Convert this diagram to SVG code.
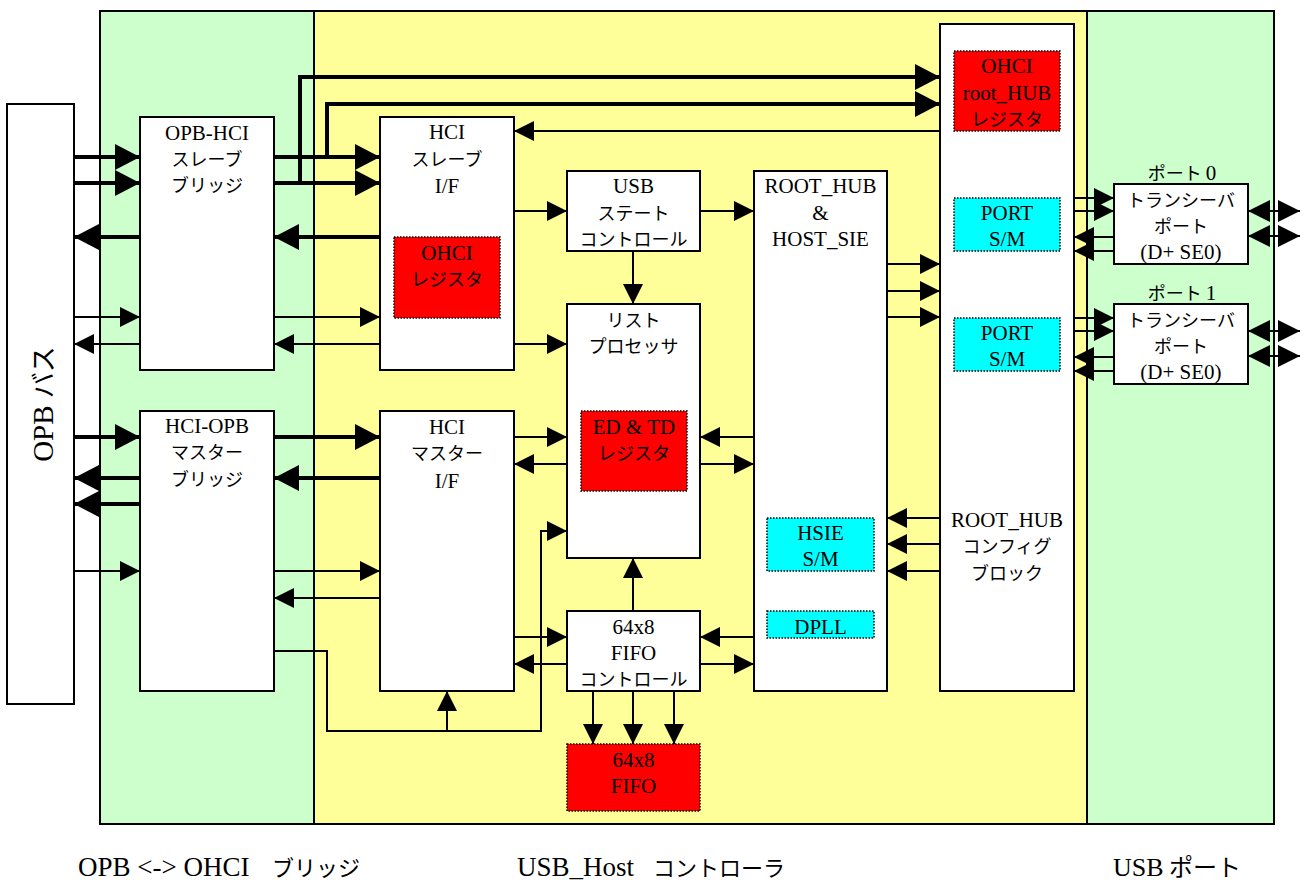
<svg xmlns="http://www.w3.org/2000/svg" width="1305" height="882" viewBox="0 0 1305 882">
<style>
.rg{fill:#CCFFCC;stroke:#000;stroke-width:2}
.ry{fill:#FFFF99;stroke:#000;stroke-width:2}
.box{fill:#fff;stroke:#000;stroke-width:2}
.red{fill:#FF0000;stroke:#000;stroke-width:1.5;stroke-dasharray:1.5 1.5}
.cyan{fill:#00FFFF;stroke:#000;stroke-width:1.5;stroke-dasharray:1.5 1.5}
.t{font-family:'Liberation Serif','Times New Roman',serif;font-size:21px;text-anchor:middle;fill:#000}
.j{font-family:'Noto Sans CJK JP',sans-serif;font-size:18px;text-anchor:middle;fill:#000}
.big{font-family:'Liberation Serif','Times New Roman',serif;font-size:27px;fill:#000}
.bigj{font-family:'Noto Sans CJK JP',sans-serif;font-size:22px;fill:#000}
.thin{stroke:#000;stroke-width:2;fill:none;marker-end:url(#a)}
.thick{stroke:#000;stroke-width:4;fill:none;marker-end:url(#ta)}
.bi{stroke:#000;stroke-width:2;fill:none;marker-start:url(#b);marker-end:url(#b)}
</style>
<defs>
<marker id="a" markerUnits="userSpaceOnUse" markerWidth="20" markerHeight="20" refX="20" refY="10" orient="auto"><path d="M0,0 L20,10 L0,20 z" fill="#000"/></marker>
<marker id="ta" markerUnits="userSpaceOnUse" markerWidth="25" markerHeight="26" refX="25" refY="13" orient="auto"><path d="M0,0 L25,13 L0,26 z" fill="#000"/></marker>
<marker id="b" markerUnits="userSpaceOnUse" markerWidth="22" markerHeight="22" refX="22" refY="11" orient="auto-start-reverse"><path d="M0,0 L22,11 L0,22 z" fill="#000"/></marker>
</defs>

<g id="regions">
<rect class="rg" x="100" y="11" width="214" height="813"/>
<rect class="ry" x="314" y="11" width="773" height="813"/>
<rect class="rg" x="1087" y="11" width="187" height="813"/>
</g>

<g id="opb-bus">
<rect class="box" x="7" y="104" width="67" height="600"/>
<text transform="translate(53,404) rotate(-90)" text-anchor="middle"><tspan class="big" style="font-size:29px">OPB </tspan><tspan class="bigj" style="font-size:26px">バス</tspan></text>
</g>

<g id="opb-hci">
<rect class="box" x="140" y="117" width="134" height="253"/>
<text class="t" x="207" y="140">OPB-HCI</text>
<text class="j" x="207" y="166">スレーブ</text>
<text class="j" x="207" y="192">ブリッジ</text>
</g>

<g id="hci-opb">
<rect class="box" x="140" y="411" width="134" height="280"/>
<text class="t" x="207" y="433">HCI-OPB</text>
<text class="j" x="207" y="459">マスター</text>
<text class="j" x="207" y="486">ブリッジ</text>
</g>

<g id="hci-slave-if">
<rect class="box" x="380" y="117" width="134" height="253"/>
<text class="t" x="447" y="139">HCI</text>
<text class="j" x="447" y="166">スレーブ</text>
<text class="t" x="447" y="193">I/F</text>
</g>
<g id="ohci-reg">
<rect class="red" x="394" y="237" width="106" height="81"/>
<text class="t" x="447" y="260">OHCI</text>
<text class="j" x="447" y="286">レジスタ</text>
</g>

<g id="hci-master-if">
<rect class="box" x="380" y="411" width="134" height="280"/>
<text class="t" x="447" y="434">HCI</text>
<text class="j" x="447" y="460">マスター</text>
<text class="t" x="447" y="488">I/F</text>
</g>

<g id="usb-state">
<rect class="box" x="567" y="171" width="133" height="80"/>
<text class="t" x="633.5" y="193">USB</text>
<text class="j" x="633.5" y="220">ステート</text>
<text class="j" x="633.5" y="246">コントロール</text>
</g>

<g id="list-proc">
<rect class="box" x="567" y="304" width="133" height="254"/>
<text class="j" x="633.5" y="327">リスト</text>
<text class="j" x="633.5" y="353">プロセッサ</text>
</g>
<g id="edtd-reg">
<rect class="red" x="581" y="411" width="106" height="80"/>
<text class="t" x="634" y="434">ED &amp; TD</text>
<text class="j" x="634" y="460">レジスタ</text>
</g>

<g id="fifo-ctrl">
<rect class="box" x="567" y="611" width="133" height="80"/>
<text class="t" x="633.5" y="634">64x8</text>
<text class="t" x="633.5" y="660">FIFO</text>
<text class="j" x="633.5" y="686">コントロール</text>
</g>

<g id="fifo">
<rect class="red" x="567" y="744" width="133" height="67"/>
<text class="t" x="633.5" y="767">64x8</text>
<text class="t" x="633.5" y="793">FIFO</text>
</g>

<g id="root-hub-sie">
<rect class="box" x="754" y="171" width="133" height="520"/>
<text class="t" x="820.5" y="193">ROOT_HUB</text>
<text class="t" x="820.5" y="220">&amp;</text>
<text class="t" x="820.5" y="246">HOST_SIE</text>
</g>
<g id="hsie-sm">
<rect class="cyan" x="767" y="518" width="107" height="53"/>
<text class="t" x="820.5" y="540">HSIE</text>
<text class="t" x="820.5" y="566">S/M</text>
</g>
<g id="dpll">
<rect class="cyan" x="767" y="611" width="107" height="27"/>
<text class="t" x="820.5" y="634">DPLL</text>
</g>

<g id="root-hub-config">
<rect class="box" x="940" y="24" width="134" height="667"/>
<text class="t" x="1007" y="527">ROOT_HUB</text>
<text class="j" x="1007" y="553">コンフィグ</text>
<text class="j" x="1007" y="580">ブロック</text>
</g>
<g id="ohci-roothub-reg">
<rect class="red" x="954" y="51" width="106" height="80"/>
<text class="t" x="1007" y="73">OHCI</text>
<text class="t" x="1007" y="100">root_HUB</text>
<text class="j" x="1007" y="126">レジスタ</text>
</g>
<g id="port-sm-0">
<rect class="cyan" x="954" y="198" width="106" height="53"/>
<text class="t" x="1007" y="220">PORT</text>
<text class="t" x="1007" y="246">S/M</text>
</g>
<g id="port-sm-1">
<rect class="cyan" x="954" y="318" width="106" height="53"/>
<text class="t" x="1007" y="340">PORT</text>
<text class="t" x="1007" y="366">S/M</text>
</g>

<g id="transceiver-0">
<text class="j" x="1182" y="180">ポート <tspan class="t" style="font-size:21px">0</tspan></text>
<rect class="box" x="1114" y="184" width="134" height="80"/>
<text class="j" x="1181" y="207">トランシーバ</text>
<text class="j" x="1181" y="233">ポート</text>
<text class="t" x="1181" y="259">(D+ SE0)</text>
</g>
<g id="transceiver-1">
<text class="j" x="1182" y="300">ポート <tspan class="t" style="font-size:21px">1</tspan></text>
<rect class="box" x="1114" y="304" width="134" height="80"/>
<text class="j" x="1181" y="327">トランシーバ</text>
<text class="j" x="1181" y="353">ポート</text>
<text class="t" x="1181" y="379">(D+ SE0)</text>
</g>

<g id="labels">
<text x="78" y="876" class="big">OPB &lt;-&gt; OHCI</text>
<text x="272" y="876" class="bigj">ブリッジ</text>
<text x="517" y="876" class="big">USB_Host</text>
<text x="653" y="876" class="bigj">コントローラ</text>
<text x="1113" y="876" class="big" style="font-size:26px">USB</text>
<text x="1169" y="876" class="bigj" style="font-size:24px">ポート</text>
</g>

<g id="connectors">
<path class="thick" d="M74,157 H140"/>
<path class="thick" d="M74,183 H140"/>
<path class="thick" d="M140,237 H74"/>
<path class="thick" d="M274,157 H380"/>
<path class="thick" d="M274,183 H380"/>
<path class="thick" d="M380,237 H274"/>
<path class="thick" d="M300,183 V77 H940"/>
<path class="thick" d="M327,157 V104 H940"/>
<path class="thick" d="M74,437 H140"/>
<path class="thick" d="M140,478 H74"/>
<path class="thick" d="M140,504 H74"/>
<path class="thick" d="M274,437 H380"/>
<path class="thick" d="M380,478 H274"/>

<path class="thin" d="M74,317 H140"/>
<path class="thin" d="M140,344 H74"/>
<path class="thin" d="M274,317 H380"/>
<path class="thin" d="M380,344 H274"/>
<path class="thin" d="M940,131 H514"/>
<path class="thin" d="M514,211 H567"/>
<path class="thin" d="M700,211 H754"/>
<path class="thin" d="M633,251 V304"/>
<path class="thin" d="M514,344 H567"/>
<path class="thin" d="M74,571 H140"/>
<path class="thin" d="M274,571 H380"/>
<path class="thin" d="M380,598 H274"/>
<path class="thin" d="M274,651 H327 V731 H541 V531 H567"/>
<path class="thin" d="M447,731 V691"/>
<path class="thin" d="M514,437 H567"/>
<path class="thin" d="M567,464 H514"/>
<path class="thin" d="M514,637 H567"/>
<path class="thin" d="M567,664 H514"/>
<path class="thin" d="M754,437 H700"/>
<path class="thin" d="M700,464 H754"/>
<path class="thin" d="M754,637 H700"/>
<path class="thin" d="M700,664 H754"/>
<path class="thin" d="M633,611 V558"/>
<path class="thin" d="M593,691 V744"/>
<path class="thin" d="M633,691 V744"/>
<path class="thin" d="M674,691 V744"/>
<path class="thin" d="M887,264 H940"/>
<path class="thin" d="M887,291 H940"/>
<path class="thin" d="M887,317 H940"/>
<path class="thin" d="M940,518 H887"/>
<path class="thin" d="M940,544 H887"/>
<path class="thin" d="M940,571 H887"/>
<path class="thin" d="M1074,198 H1114"/>
<path class="thin" d="M1074,211 H1114"/>
<path class="thin" d="M1114,237 H1074"/>
<path class="thin" d="M1114,251 H1074"/>
<path class="thin" d="M1074,318 H1114"/>
<path class="thin" d="M1074,331 H1114"/>
<path class="thin" d="M1114,357 H1074"/>
<path class="thin" d="M1114,371 H1074"/>
<path class="bi" d="M1248,211 H1300"/>
<path class="bi" d="M1248,236 H1300"/>
<path class="bi" d="M1248,331 H1300"/>
<path class="bi" d="M1248,356 H1300"/>
</g>
</svg>
